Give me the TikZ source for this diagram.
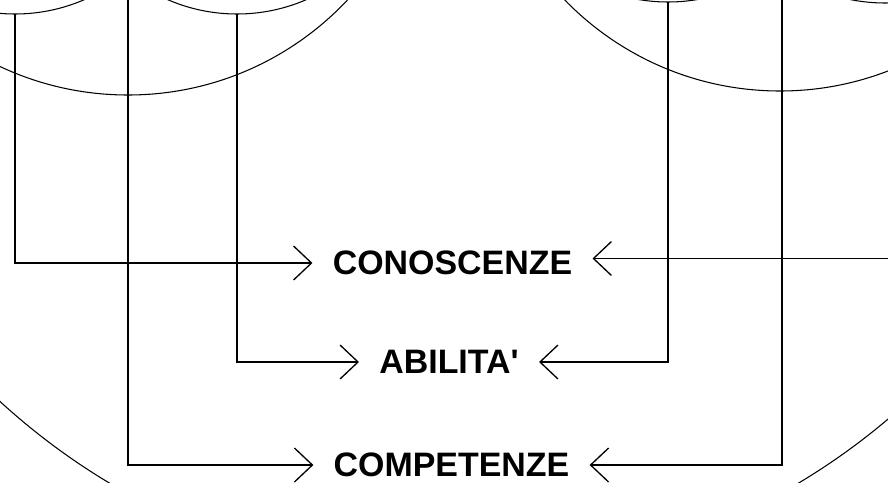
\documentclass[tikz,border=0pt]{standalone}
\usepackage{fontspec}
\setmainfont{Liberation Sans}
\usetikzlibrary{arrows.meta,positioning}

\begin{document}
\begin{tikzpicture}[
  ring/.style={draw=black, line width=0.6pt},
  lbl/.style={font=\fontsize{19.3}{23}\selectfont\bfseries, inner xsep=0.4cm,
              inner ysep=0pt, align=center},
  ar/.style={-{Straight Barb[length=3.6mm,width=6.8mm]}, draw=black,
             line width=0.75pt}]

\useasboundingbox (0,0) rectangle (17.76,-9.64);
\clip (0,0) rectangle (17.76,-9.64);

% circles, only their lower parts show
\draw[ring] (0.30,3.20) circle (3.48);
\draw[ring] (4.74,3.20) circle (3.48);
\draw[ring] (2.56,4.12) circle (6.02);
\draw[ring] (13.36,3.46) circle (3.50);
\draw[ring] (17.70,3.44) circle (3.50);
\draw[ring] (15.60,4.18) circle (6.00);
\draw[ring] (9.08,1.88) circle (13.44);

% the three labels
\node[lbl] (cono) at (9.05,-5.26) {CONOSCENZE};
\node[lbl] (abil) at (8.98,-7.24) {ABILITA\textquotesingle};
\node[lbl] (comp) at (9.03,-9.30) {COMPETENZE};

% where the leads leave the circles
\coordinate (lc) at (0.30,-0.28);
\coordinate (lm) at (2.56,0.20);
\coordinate (la) at (4.74,-0.28);
\coordinate (ra) at (13.36,-0.04);
\coordinate (rm) at (15.64,0.20);
\coordinate (rc) at (17.90,-5.17);

% left leads
\draw[ar] (lc) |- (cono.west);
\draw[ar] (la) |- (abil.west);
\draw[ar] (lm) |- (comp.west);
% right leads
\draw[ar] (rc) -- (rc -| cono.east);
\draw[ar] (ra) |- (abil.east);
\draw[ar] (rm) |- (comp.east);
\end{tikzpicture}
\end{document}
